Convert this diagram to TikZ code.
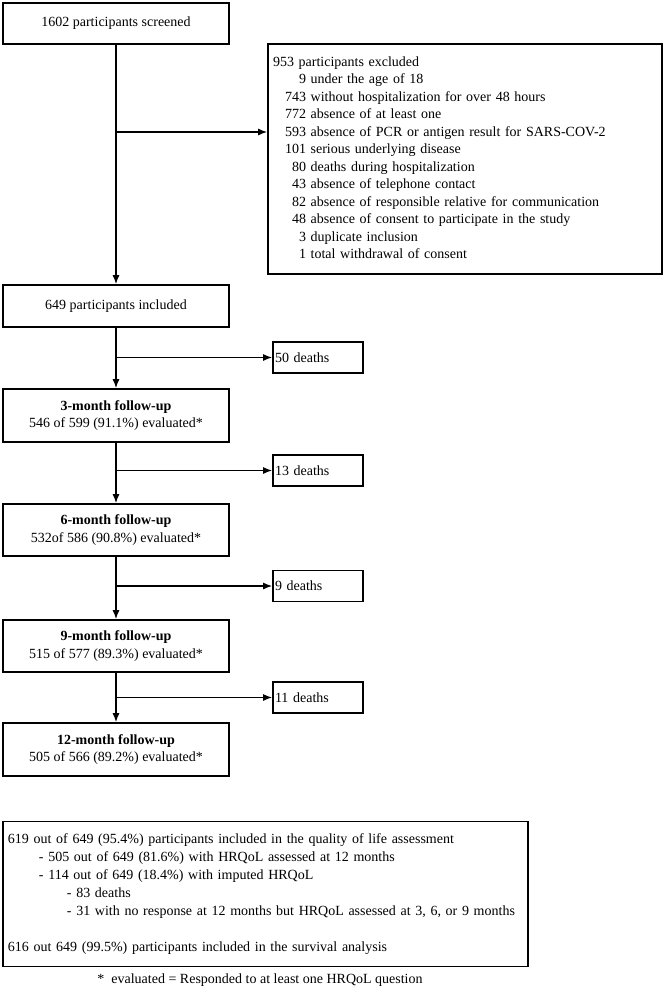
\documentclass[tikz,border=0pt]{standalone}
\usepackage{fontspec}
\setmainfont{Liberation Serif}
\usetikzlibrary{arrows.meta}

\begin{document}
\begin{tikzpicture}[x=1pt,y=-1pt,font=\fontsize{14}{17.5}\selectfont,
        box/.style={draw,line width=1.6pt,minimum width=226pt,align=center,inner sep=0pt},
        deathbox/.style={draw,line width=1.6pt,text width=86pt,inner xsep=2pt,minimum height=31pt,align=left},
        flow/.style={line width=1.4pt,-{Latex[length=9pt,width=7pt]}}]
        \useasboundingbox (0,0) rectangle (666,997);
        \node[box,minimum height=41pt] (screened) at (116,23.5) {1602 participants screened};
        \node[draw,line width=1.6pt,text width=384pt,inner xsep=5pt,minimum height=230pt,align=left] (excluded) at (465,159) {%
            \begin{tabular}{@{\hspace{12pt}}r@{ }l@{}}
            \multicolumn{2}{@{}l@{}}{953 participants excluded}\\
            9 & under the age of 18\\
            743 & without hospitalization for over 48 hours\\
            772 & absence of at least one\\
            593 & absence of PCR or antigen result for SARS-COV-2\\
            101 & serious underlying disease\\
            80 & deaths during hospitalization\\
            43 & absence of telephone contact\\
            82 & absence of responsible relative for communication\\
            48 & absence of consent to participate in the study\\
            3 & duplicate inclusion\\
            1 & total withdrawal of consent
            \end{tabular}};
        \node[box,minimum height=42pt] (included) at (116,306) {649 participants included};
        \node[box,minimum height=53pt] (fu3) at (116,415.5) {\textbf{3-month follow-up}\\546 of 599 (91.1\%) evaluated*};
        \node[box,minimum height=52pt] (fu6) at (116,530) {\textbf{6-month follow-up}\\532of 586 (90.8\%) evaluated*};
        \node[box,minimum height=52pt] (fu9) at (116,646) {\textbf{9-month follow-up}\\515 of 577 (89.3\%) evaluated*};
        \node[box,minimum height=53pt] (fu12) at (116,749.5) {\textbf{12-month follow-up}\\505 of 566 (89.2\%) evaluated*};
        \node[deathbox] (d50) at (318,357.5) {50 deaths};
        \node[deathbox] (d13) at (318,470.5) {13 deaths};
        \node[deathbox] (d9) at (318,586) {9 deaths};
        \node[deathbox] (d11) at (318,697.5) {11 deaths};
        \node[draw,line width=1.6pt,text width=515pt,inner xsep=5pt,minimum height=145pt,align=left,font=\fontsize{14}{18}\selectfont] (analysis) at (265.5,894) {%
            619 out of 649 (95.4\%) participants included in the quality of life assessment\\
            \hspace*{31pt}- 505 out of 649 (81.6\%) with HRQoL assessed at 12 months\\
            \hspace*{31pt}- 114 out of 649 (18.4\%) with imputed HRQoL\\
            \hspace*{59pt}- 83 deaths\\
            \hspace*{59pt}- 31 with no response at 12 months but HRQoL assessed at 3, 6, or 9 months\\[18pt]
            616 out 649 (99.5\%) participants included in the survival analysis};
        \node (note) at (260,980) {*\ \ evaluated = Responded to at least one HRQoL question};
        \coordinate (s0) at (116,132);
        \coordinate (s1) at (116,357.5);
        \coordinate (s2) at (116,470.5);
        \coordinate (s3) at (116,586);
        \coordinate (s4) at (116,697.5);
        \draw[flow] (screened) -- (included);
        \draw[flow] (included) -- (fu3);
        \draw[flow] (fu3) -- (fu6);
        \draw[flow] (fu6) -- (fu9);
        \draw[flow] (fu9) -- (fu12);
        \draw[flow] (s0) -- (s0 -| excluded.west);
        \draw[flow] (s1) -- (d50);
        \draw[flow] (s2) -- (d13);
        \draw[flow] (s3) -- (d9);
        \draw[flow] (s4) -- (d11);
    \end{tikzpicture}
\end{document}
